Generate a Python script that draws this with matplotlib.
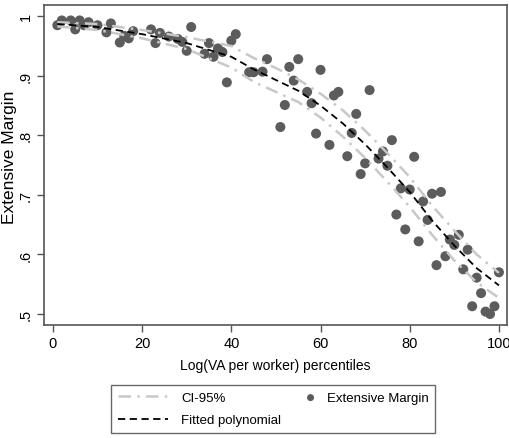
import matplotlib
matplotlib.use("Agg")
import matplotlib.pyplot as plt
from matplotlib.legend_handler import HandlerPathCollection
import numpy as np

plt.rcParams["font.family"] = ["Liberation Sans", "DejaVu Sans"]

# scatter: percentile, extensive margin
pct = [1, 2, 4, 5, 6, 7, 8, 10, 12, 13, 15, 16, 17, 18, 22, 23, 24, 26, 28, 29,
       30, 31, 34, 35, 36, 37, 38, 39, 40, 41, 44, 45, 47, 48, 51, 52, 53, 54, 55, 57,
       58, 59, 60, 62, 63, 64, 66, 67, 68, 69, 70, 71, 73, 74, 75, 76, 77, 78, 79, 80,
       81, 82, 83, 84, 85, 86, 87, 88, 89, 90, 91, 92, 93, 94, 95, 96, 97, 98, 99, 100]
margin = [0.985, 0.993, 0.993, 0.978, 0.993, 0.985, 0.990, 0.985, 0.973, 0.988,
          0.956, 0.967, 0.963, 0.975, 0.978, 0.955, 0.972, 0.966, 0.962, 0.957,
          0.942, 0.982, 0.937, 0.955, 0.932, 0.946, 0.940, 0.889, 0.959, 0.970,
          0.906, 0.906, 0.907, 0.928, 0.814, 0.851, 0.915, 0.892, 0.928, 0.873,
          0.854, 0.803, 0.910, 0.784, 0.867, 0.873, 0.765, 0.804, 0.836, 0.735,
          0.753, 0.876, 0.761, 0.773, 0.749, 0.792, 0.667, 0.711, 0.642, 0.709,
          0.764, 0.622, 0.689, 0.658, 0.702, 0.582, 0.705, 0.597, 0.625, 0.616,
          0.633, 0.575, 0.608, 0.513, 0.561, 0.535, 0.504, 0.500, 0.513, 0.570]

# fitted polynomial and 95% CI
fit_x = [1, 10, 20, 30, 40, 45, 50, 55, 60, 65, 70, 75, 80, 85, 90, 95, 100]
fit_y = [0.987, 0.982, 0.970, 0.955, 0.932, 0.911, 0.893, 0.875, 0.850, 0.820,
         0.785, 0.746, 0.705, 0.657, 0.615, 0.577, 0.548]
ci_hi = [0.990, 0.987, 0.977, 0.965, 0.950, 0.930, 0.913, 0.894, 0.870, 0.842,
         0.808, 0.770, 0.730, 0.682, 0.640, 0.600, 0.569]
ci_lo = [0.983, 0.977, 0.963, 0.945, 0.914, 0.890, 0.873, 0.856, 0.830, 0.798,
         0.762, 0.722, 0.680, 0.633, 0.590, 0.553, 0.527]

fig = plt.figure(figsize=(5.09, 4.39), dpi=100)
ax = fig.add_axes([0.0864, 0.2574, 0.9096, 0.729])

sc = ax.scatter(pct, margin, s=52, color="#5c5c5c", edgecolors="none", zorder=2)
ci_style = dict(color="#c8c8c8", lw=1.8, ls=(0, (5, 2.5, 1, 2.5)), zorder=3)
l_ci, = ax.plot(fit_x, ci_hi, **ci_style)
ax.plot(fit_x, ci_lo, **ci_style)
l_fit, = ax.plot(fit_x, fit_y, color="black", lw=1.3, ls=(0, (4, 2.5)), zorder=4)

ax.set_xlim(-2, 101.8)
ax.set_ylim(0.4815, 1.019)
ax.set_xticks([0, 20, 40, 60, 80, 100])
ax.set_yticks([0.5, 0.6, 0.7, 0.8, 0.9, 1.0])
ax.set_yticklabels([".5", ".6", ".7", ".8", ".9", "1"], rotation=90, va="center")
ax.tick_params(labelsize=10.5, length=5, width=1, color="#555555", pad=3)
for s in ax.spines.values():
    s.set_color("#555555")
    s.set_linewidth(1.2)

ax.set_xlabel("Log(VA per worker) percentiles", fontsize=10, labelpad=6)
ax.set_ylabel("Extensive Margin", fontsize=12.5)
ax.yaxis.set_label_coords(-0.058, 0.528)

leg = fig.legend([l_ci, l_fit, sc], ["CI-95%", "Fitted polynomial", "Extensive Margin"],
                 loc="center", bbox_to_anchor=(0.537, 0.066), ncol=2,
                 fancybox=False, edgecolor="#444444", fontsize=9.5,
                 handlelength=3.8, handletextpad=1.0, columnspacing=-1.33,
                 labelspacing=0.75, borderpad=0.5, markerscale=0.7,
                 handler_map={sc: HandlerPathCollection(xpad=3.3)})
leg.get_frame().set_linewidth(1.0)

fig.savefig("out.png", dpi=100)
